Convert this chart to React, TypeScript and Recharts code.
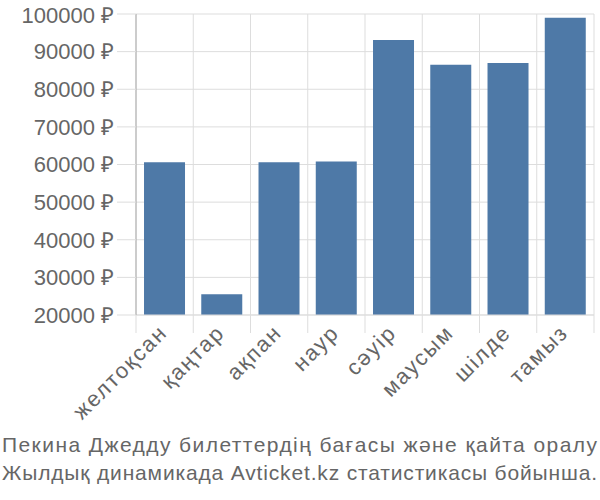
import React from 'react';
import { BarChart, Bar, XAxis, YAxis, CartesianGrid } from 'recharts';

const months = ['желтоқсан', 'қаңтар', 'ақпан', 'наур', 'сәуір', 'маусым', 'шілде', 'тамыз'];
const prices = [60600, 25500, 60600, 60800, 93100, 86500, 87000, 99000];
const yTicks = [20000, 30000, 40000, 50000, 60000, 70000, 80000, 90000, 100000];
const boundaryTicks = [0, 1, 2, 3, 4, 5, 6, 7, 8];
const centerTicks = [0.5, 1.5, 2.5, 3.5, 4.5, 5.5, 6.5, 7.5];
const captionLines = [
  'Пекина Джедду билеттердің бағасы және қайта оралу',
  'Жылдық динамикада Avticket.kz статистикасы бойынша.',
];

const data = months.map((m, i) => ({ pos: i + 0.5, month: m, price: prices[i] }));

const FONT = '"Liberation Sans", Arial, sans-serif';

const MonthTick = (props: any) => {
  const { x, y, payload } = props;
  const idx = Math.floor(payload.value);
  const ax = x + 4;
  const ay = y + 10;
  return (
    <text
      x={ax}
      y={ay}
      textAnchor="end"
      fill="#666"
      fontSize={22}
      letterSpacing={1.8}
      fontFamily={FONT}
      transform={`rotate(-45 ${ax} ${ay})`}
    >
      {months[idx]}
    </text>
  );
};

export default function App() {
  return (
    <div style={{ position: 'absolute', left: 0, top: 0, width: 600, height: 500, background: '#fff' }}>
      <BarChart
        width={600}
        height={500}
        data={data}
        margin={{ top: 14, right: 6, left: 0, bottom: 84 }}
        barCategoryGap="14%"
      >
        <CartesianGrid stroke="#ddd" xAxisId="b" />
        <XAxis
          xAxisId="b"
          type="number"
          dataKey="pos"
          domain={[0, 8]}
          ticks={boundaryTicks}
          tick={() => <g />}
          tickSize={18}
          height={1}
          axisLine={{ stroke: '#ddd' }}
          tickLine={{ stroke: '#ddd' }}
        />
        <XAxis
          xAxisId="lab"
          type="number"
          dataKey="pos"
          domain={[0, 8]}
          ticks={centerTicks}
          tick={<MonthTick />}
          axisLine={false}
          tickLine={false}
          height={100}
        />
        <YAxis
          type="number"
          domain={[20000, 100000]}
          ticks={yTicks}
          width={136}
          tickSize={19}
          tickMargin={3}
          axisLine={{ stroke: '#aaa' }}
          tickLine={{ stroke: '#ddd' }}
          tick={{ fill: '#666', fontSize: 22, fontFamily: FONT }}
          tickFormatter={(v: number) => `${v} ₽`}
          allowDataOverflow
        />
        <Bar xAxisId="b" dataKey="price" fill="#4e79a7" isAnimationActive={false} />
      </BarChart>
      <svg
        width={600}
        height={80}
        style={{ position: 'absolute', left: 0, top: 420 }}
      >
        {captionLines.map((l, i) => (
          <text
            key={l}
            x={2}
            y={32 + i * 28}
            textLength={595}
            lengthAdjust="spacing"
            fontFamily={FONT}
            fontSize={21}
            fill="#666"
          >
            {l}
          </text>
        ))}
      </svg>
    </div>
  );
}
